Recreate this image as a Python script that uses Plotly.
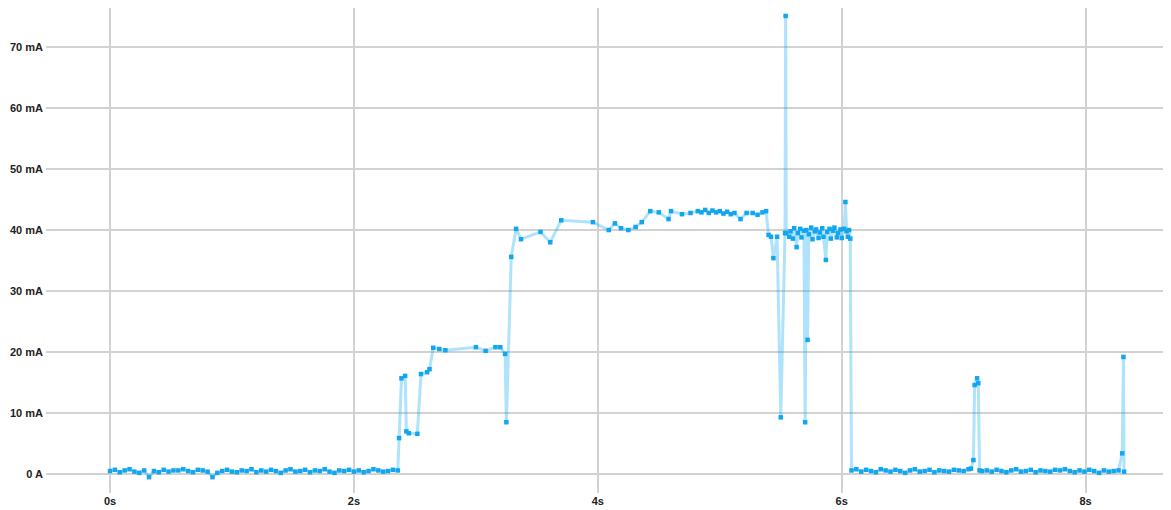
import plotly.graph_objects as go

# ---- data (time in s, current in mA) ----
t_base1 = [0.00, 0.04, 0.08, 0.12, 0.16, 0.20, 0.24, 0.28, 0.32, 0.36,
           0.40, 0.44, 0.48, 0.52, 0.56, 0.60, 0.64, 0.68, 0.72, 0.76,
           0.80, 0.84, 0.88, 0.92, 0.96, 1.00, 1.04, 1.08, 1.12, 1.16,
           1.20, 1.24, 1.28, 1.32, 1.36, 1.40, 1.44, 1.48, 1.52, 1.56,
           1.60, 1.64, 1.68, 1.72, 1.76, 1.80, 1.84, 1.88, 1.92, 1.96,
           2.00, 2.04, 2.08, 2.12, 2.16, 2.20, 2.24, 2.28, 2.32, 2.36]
v_base1 = [0.5, 0.7, 0.3, 0.6, 0.8, 0.4, 0.2, 0.6, -0.5, 0.5,
           0.3, 0.7, 0.4, 0.6, 0.6, 0.8, 0.5, 0.3, 0.7, 0.6,
           0.4, -0.5, 0.2, 0.5, 0.7, 0.4, 0.3, 0.6, 0.5, 0.8,
           0.3, 0.6, 0.4, 0.7, 0.5, 0.2, 0.6, 0.8, 0.4, 0.5,
           0.7, 0.3, 0.6, 0.5, 0.8, 0.4, 0.2, 0.6, 0.5, 0.7,
           0.4, 0.6, 0.3, 0.5, 0.8, 0.6, 0.4, 0.5, 0.7, 0.6]

t_rise = [2.37, 2.39, 2.42, 2.43, 2.45, 2.52, 2.55, 2.60, 2.62, 2.65,
          2.70, 2.75, 3.00, 3.08, 3.16, 3.20, 3.24, 3.25, 3.29, 3.33,
          3.37, 3.53, 3.61, 3.70, 3.96, 4.09, 4.14, 4.19, 4.25, 4.31,
          4.36, 4.43, 4.50, 4.58, 4.60, 4.69, 4.76, 4.82, 4.85, 4.88,
          4.91, 4.94, 4.97, 5.00, 5.03, 5.06, 5.09, 5.12, 5.17, 5.22,
          5.27, 5.31, 5.35, 5.38, 5.40, 5.42, 5.44, 5.47, 5.50, 5.535,
          5.54]
v_rise = [5.9, 15.7, 16.1, 7.0, 6.7, 6.6, 16.4, 16.7, 17.2, 20.7,
          20.5, 20.3, 20.8, 20.2, 20.8, 20.8, 19.7, 8.5, 35.6, 40.2,
          38.5, 39.7, 38.0, 41.6, 41.3, 40.0, 41.1, 40.3, 40.0, 40.5,
          41.3, 43.1, 42.9, 41.8, 43.1, 42.6, 42.8, 43.1, 42.9, 43.3,
          42.8, 43.2, 42.9, 43.1, 42.7, 43.0, 42.6, 42.8, 41.8, 42.8,
          42.8, 42.5, 42.9, 43.1, 39.2, 38.9, 35.4, 38.9, 9.3, 39.5,
          75.1]

t_noisy = [5.545, 5.57, 5.58, 5.60, 5.61, 5.63, 5.64, 5.66, 5.67, 5.69,
           5.70, 5.71, 5.72, 5.73, 5.75, 5.76, 5.78, 5.79, 5.81, 5.82,
           5.84, 5.85, 5.87, 5.88, 5.90, 5.91, 5.93, 5.94, 5.96, 5.97,
           5.99, 6.00, 6.02, 6.03, 6.04, 6.05, 6.06, 6.07]
v_noisy = [39.5, 38.9, 39.8, 38.6, 40.3, 37.2, 39.5, 40.2, 38.8, 39.9,
           8.5, 40.0, 22.0, 39.3, 40.4, 38.5, 39.8, 40.1, 38.7, 39.6,
           40.3, 38.9, 35.1, 39.7, 40.2, 38.6, 39.9, 40.4, 38.8, 39.5,
           40.1, 38.7, 40.2, 44.6, 39.8, 38.9, 40.0, 38.6]

t_base2 = [6.08, 6.12, 6.16, 6.20, 6.24, 6.28, 6.32, 6.36, 6.40, 6.44,
           6.48, 6.52, 6.56, 6.60, 6.64, 6.68, 6.72, 6.76, 6.80, 6.84,
           6.88, 6.92, 6.96, 7.00, 7.04, 7.06, 7.08, 7.09, 7.11, 7.12,
           7.13]
v_base2 = [0.6, 0.8, 0.4, 0.7, 0.5, 0.3, 0.8, 0.6, 0.4, 0.7,
           0.5, 0.2, 0.6, 0.8, 0.4, 0.5, 0.7, 0.3, 0.6, 0.5,
           0.4, 0.7, 0.6, 0.5, 0.8, 0.9, 2.3, 14.6, 15.7, 14.9,
           0.6]

t_base3 = [7.15, 7.19, 7.23, 7.27, 7.31, 7.35, 7.39, 7.43, 7.47, 7.51,
           7.55, 7.59, 7.63, 7.67, 7.71, 7.75, 7.79, 7.83, 7.87, 7.91,
           7.95, 7.99, 8.03, 8.07, 8.11, 8.15, 8.19, 8.23, 8.27, 8.30,
           8.31, 8.315]
v_base3 = [0.5, 0.6, 0.4, 0.7, 0.5, 0.3, 0.6, 0.8, 0.4, 0.5,
           0.7, 0.3, 0.6, 0.5, 0.4, 0.7, 0.6, 0.8, 0.5, 0.3,
           0.6, 0.4, 0.7, 0.5, 0.2, 0.6, 0.4, 0.5, 0.6, 3.4,
           19.2, 0.4]

x_ticks = [0, 2, 4, 6, 8]
x_labels = ["0s", "2s", "4s", "6s", "8s"]
y_ticks = [0, 10, 20, 30, 40, 50, 60, 70]
y_labels = ["0 A", "10 mA", "20 mA", "30 mA", "40 mA", "50 mA", "60 mA", "70 mA"]

t_all = t_base1 + t_rise + t_noisy + t_base2 + t_base3
v_all = v_base1 + v_rise + v_noisy + v_base2 + v_base3

fig = go.Figure()
fig.add_trace(go.Scatter(
    x=t_all, y=v_all, mode="lines",
    line=dict(color="rgba(3,169,244,0.32)", width=3),
    hoverinfo="skip", showlegend=False))
fig.add_trace(go.Scatter(
    x=t_all, y=v_all, mode="markers",
    marker=dict(color="#13a6ee", size=4.5, symbol="square", line=dict(width=0)),
    showlegend=False))

tickfont = dict(family="Liberation Sans, Arial, sans-serif", size=11,
                color="#222222", weight="bold")
# page body has an 8px margin, so the figure is sized/margined to compensate
fig.update_layout(
    width=1163, height=502,
    margin=dict(l=38, r=0, t=0, b=17),
    paper_bgcolor="white", plot_bgcolor="white",
    xaxis=dict(range=[-0.525, 8.70], tickvals=x_ticks, ticktext=x_labels,
               showgrid=True, gridcolor="#d2d2d2", gridwidth=1.5,
               zeroline=False, showline=False, ticks="",
               tickfont=tickfont),
    yaxis=dict(range=[-3.1, 76.4], tickvals=y_ticks, ticktext=y_labels,
               showgrid=True, gridcolor="#d2d2d2", gridwidth=1.5,
               zeroline=False, showline=False, ticks="",
               tickfont=tickfont, ticklabelstandoff=2),
)
fig.write_html("out.html")
